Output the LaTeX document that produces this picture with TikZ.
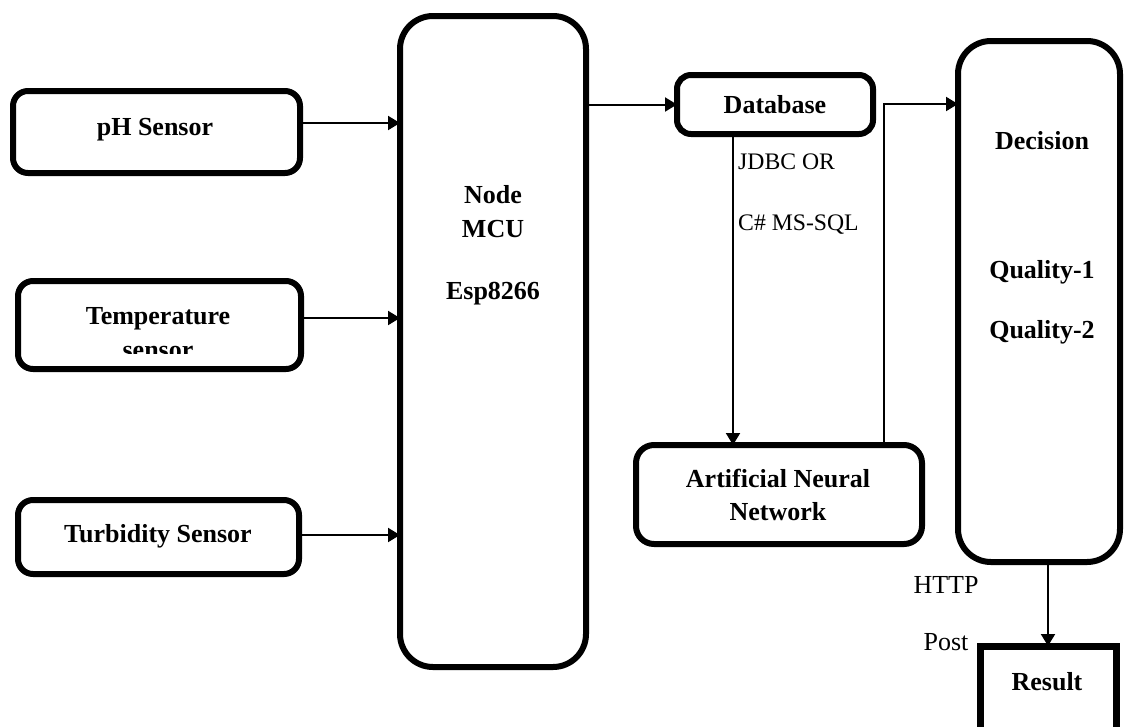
\documentclass[tikz,border=0pt]{standalone}
\usepackage{fontspec}
\setmainfont{Liberation Serif}
\usetikzlibrary{arrows.meta}

\tikzset{
  blk/.style={draw, line width=6pt, rounded corners=#1, inner sep=0pt, outer sep=0pt},
  blk/.default=15pt,
  sq/.style={draw, line width=7pt, inner sep=0pt, outer sep=0pt},
  lbl/.style={anchor=base, inner sep=0pt, font=\fontsize{26}{34}\selectfont\bfseries},
  note/.style={anchor=base, inner sep=0pt, font=\fontsize{26}{30}\selectfont},
  small/.style={anchor=base west, inner sep=0pt, font=\fontsize{23.7}{28}\selectfont},
  arr/.style={line width=2pt, -{Triangle[length=12pt,width=14pt]}},
  wire/.style={line width=1.6pt}
}

\begin{document}
\begin{tikzpicture}[x=1pt,y=-1pt]
\useasboundingbox (0,0) rectangle (1124,726);
\clip (0,0) rectangle (1124,726);

% sensor blocks
\node[blk, minimum width=287pt, minimum height=82pt] (ph) at (156.5,132) {};
\node[blk, minimum width=283pt, minimum height=88pt] (temp) at (159.5,325) {};
\node[blk, minimum width=281pt, minimum height=74pt] (turb) at (158.5,537) {};

% controller
\node[blk=33pt, minimum width=186pt, minimum height=651pt] (mcu) at (493,341.5) {};

% storage and model
\node[blk=14pt, minimum width=196pt, minimum height=59pt] (db) at (775,104.5) {};
\node[blk=18pt, minimum width=286pt, minimum height=99pt] (ann) at (779,494.5) {};

% decision and output
\node[blk=33pt, minimum width=162pt, minimum height=521pt] (dec) at (1039,301.5) {};
\node[sq, minimum width=136pt, minimum height=144pt] (res) at (1048,718) {};

% block texts
\node[lbl] (tph) at (155,135) {pH Sensor};
\node[lbl] (ttemp) at (158,324) {Temperature};
\begin{scope}
  \clip (0,0) rectangle (1124,353);
  \node[lbl] (tsens) at (158,358) {sensor};
\end{scope}
\node[lbl] (tturb) at (158,542) {Turbidity Sensor};

\node[lbl] (tnode) at (493,203) {Node};
\node[lbl] (tmcu) at (493,237) {MCU};
\node[lbl] (tesp) at (493,299) {Esp8266};

\node[lbl] (tdb) at (775,113) {Database};
\node[lbl] (tann1) at (778,487) {Artificial Neural};
\node[lbl] (tann2) at (778,520) {Network};

\node[lbl] (tdec) at (1042,149) {Decision};
\node[lbl] (tq1) at (1042,278) {Quality-1};
\node[lbl] (tq2) at (1042,338) {Quality-2};
\node[lbl] (tres) at (1047,690) {Result};

% connector labels
\node[small] (jdbc) at (738,169) {JDBC OR};
\node[small] (mssql) at (738,230) {C\# MS-SQL};
\node[note] (http) at (946,593) {HTTP};
\node[note] (post) at (946,650) {Post};

% sensor inputs
\draw[arr] ([yshift=9pt]ph.east) -- ([yshift=9pt]ph.east -| mcu.west);
\draw[arr] ([yshift=7pt]temp.east) -- ([yshift=7pt]temp.east -| mcu.west);
\draw[arr] ([yshift=2pt]turb.east) -- ([yshift=2pt]turb.east -| mcu.west);

% data path
\draw[arr] (mcu.east |- db.west) -- (db.west);
\coordinate (jx) at (733,0);
\draw[wire] (db.south -| jx) -- ([yshift=10pt]ann.north -| jx);
\draw[arr] ([yshift=12pt]ann.north -| jx) -- (ann.north -| jx);
\coordinate (kink) at (884,104);
\draw[wire] (ann.north -| kink) -- (kink) -- ([xshift=-12pt]kink -| dec.west);
\draw[arr] ([xshift=-14pt]kink -| dec.west) -- (kink -| dec.west);
\draw[arr] (dec.south -| res.north) -- (res.north);
\end{tikzpicture}
\end{document}
